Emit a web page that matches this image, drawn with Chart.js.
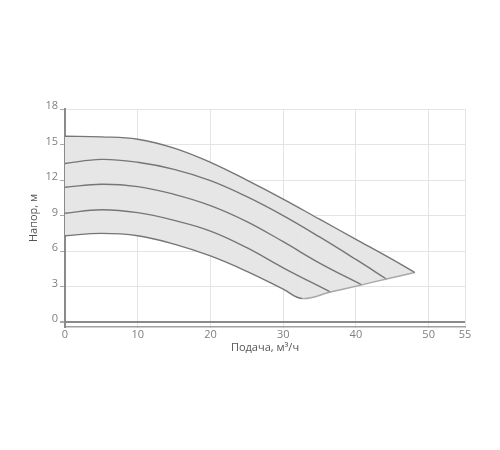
<!DOCTYPE html>
<html>
<head>
    <meta charset="UTF-8">
    <title>Напорные характеристики</title>
    <script src="https://cdn.jsdelivr.net/npm/chart.js"></script>
    <style>body { margin: 0; }</style>
</head>
<body>
<div style="width: 500px; height: 450px;">
    <canvas id="pumpChart"></canvas>
</div>

<script>
    const xTicks = [0, 10, 20, 30, 40, 50, 55];
    const yTicks = [0, 3, 6, 9, 12, 15, 18];

    // характеристики, сверху вниз
    const q1 = [0, 5, 10, 15, 20, 25, 30, 35, 40, 45, 48.1];
    const h1 = [15.7, 15.65, 15.45, 14.7, 13.5, 12.0, 10.4, 8.7, 7.0, 5.3, 4.2];
    const q2 = [0, 5, 10, 15, 20, 25, 30, 35, 40, 44.2];
    const h2 = [13.4, 13.75, 13.5, 12.9, 11.95, 10.6, 9.0, 7.2, 5.3, 3.65];
    const q3 = [0, 5, 10, 15, 20, 25, 30, 35, 40.8];
    const h3 = [11.4, 11.65, 11.45, 10.8, 9.85, 8.5, 6.8, 5.0, 3.16];
    const q4 = [0, 5, 10, 15, 20, 25, 30, 36.5];
    const h4 = [9.2, 9.5, 9.25, 8.6, 7.7, 6.3, 4.6, 2.55];
    const q5 = [0, 5, 10, 15, 20, 25, 30, 32.6];
    const h5 = [7.3, 7.5, 7.3, 6.6, 5.6, 4.3, 2.8, 2.0];
    // нижняя граница рабочей области
    const qEdge = [32.6, 36.5, 40.8, 44.2, 48.1];
    const hEdge = [2.0, 2.55, 3.16, 3.65, 4.2];

    const pts = (q, h) => q.map((v, i) => ({x: v, y: h[i]}));

    const lineColor = '#767676';
    const edgeColor = '#a8a8a8';
    const fillColor = 'rgb(230,230,230)';

    const lineStyle = {
        borderColor: lineColor,
        borderWidth: 1.4,
        pointRadius: 0,
        tension: 0.4,
        fill: false
    };

    const bottomPts = pts(q5, h5).concat(pts(qEdge.slice(1), hEdge.slice(1)));

    const data = {
        datasets: [
            Object.assign({}, lineStyle, {
                data: pts(q1, h1),
                fill: {target: 1},
                backgroundColor: fillColor
            }),
            Object.assign({}, lineStyle, {
                data: bottomPts,
                segment: {
                    borderColor: ctx => ctx.p0.parsed.x >= qEdge[0] ? edgeColor : lineColor
                }
            }),
            Object.assign({}, lineStyle, {data: pts(q2, h2)}),
            Object.assign({}, lineStyle, {data: pts(q3, h3)}),
            Object.assign({}, lineStyle, {data: pts(q4, h4)})
        ]
    };

    const tickFont = {family: 'Open Sans', size: 11};

    const config = {
        type: 'line',
        data: data,
        options: {
            responsive: true,
            maintainAspectRatio: false,
            animation: false,
            layout: {
                padding: {left: 0, right: 35, top: 109, bottom: 96}
            },
            plugins: {
                legend: {display: false},
                tooltip: {enabled: false},
                filler: {drawTime: 'beforeDatasetsDraw'}
            },
            scales: {
                x: {
                    type: 'linear',
                    min: 0,
                    max: 55,
                    afterBuildTicks: s => { s.ticks = xTicks.map(v => ({value: v})); },
                    afterFit: s => { s.height = 27; },
                    grid: {
                        color: '#e4e4e4',
                        lineWidth: 1,
                        tickLength: 1,
                        tickColor: '#aaa'
                    },
                    border: {color: '#a0a0a0', width: 1.5},
                    ticks: {
                        color: '#808080',
                        font: tickFont,
                        padding: 0,
                        maxRotation: 0
                    },
                    title: {
                        display: true,
                        text: 'Подача, м³/ч',
                        color: '#555',
                        font: tickFont,
                        padding: {top: 0, bottom: 0}
                    }
                },
                y: {
                    min: -0.4,
                    max: 18,
                    afterBuildTicks: s => { s.ticks = yTicks.map(v => ({value: v})); },
                    afterFit: s => { s.width = 65; },
                    grid: {
                        color: ctx => ctx.tick && ctx.tick.value === 0 ? '#8a8a8a' : '#e4e4e4',
                        lineWidth: ctx => ctx.tick && ctx.tick.value === 0 ? 2 : 1,
                        tickLength: 5,
                        tickColor: '#aaa'
                    },
                    border: {color: '#8a8a8a', width: 2},
                    ticks: {
                        color: '#808080',
                        font: tickFont,
                        padding: 2,
                        labelOffset: -3
                    },
                    title: {
                        display: true,
                        text: 'Напор, м',
                        color: '#555',
                        font: tickFont,
                        padding: {top: 27, bottom: 0}
                    }
                }
            }
        }
    };

    const chart = new Chart(document.getElementById('pumpChart'), config);
</script>
</body>
</html>
